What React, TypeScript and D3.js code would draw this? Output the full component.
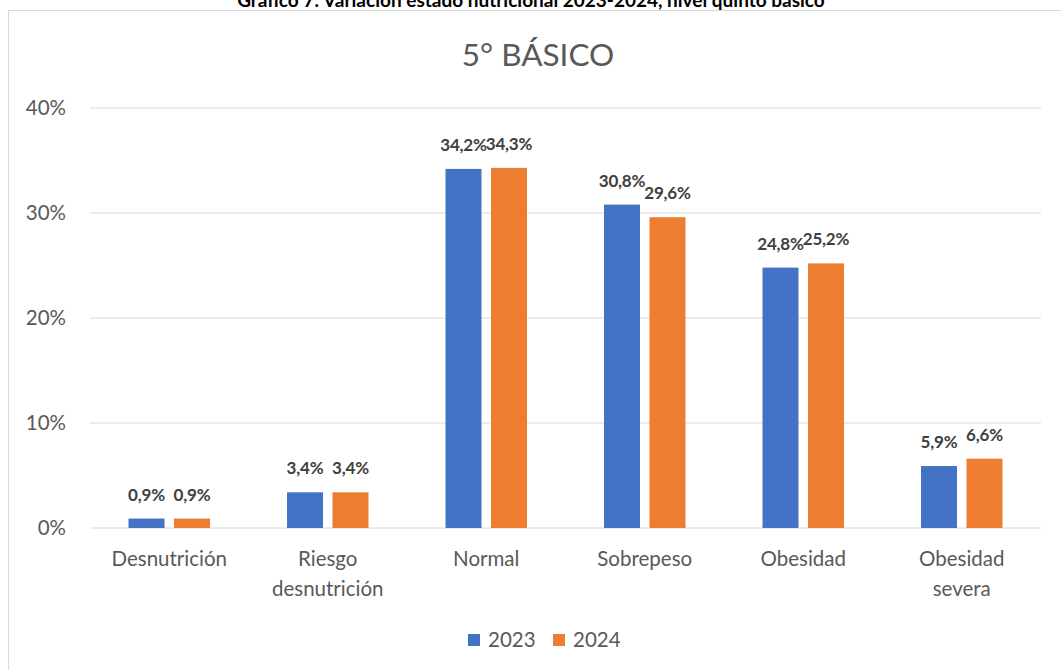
import React from "react";
import * as d3 from "d3";

const categories: string[][] = [
  ["Desnutrición"],
  ["Riesgo", "desnutrición"],
  ["Normal"],
  ["Sobrepeso"],
  ["Obesidad"],
  ["Obesidad", "severa"],
];
const series2023 = [0.9, 3.4, 34.2, 30.8, 24.8, 5.9];
const series2024 = [0.9, 3.4, 34.3, 29.6, 25.2, 6.6];
const seriesNames = ["2023", "2024"];
const colors = ["#4472C4", "#ED7D31"];
const yTicks = [0, 10, 20, 30, 40];

const W = 1061;
const H = 670;
const font = "Lato, 'Open Sans', sans-serif";

export default function App() {
  const left = 90;
  const right = 1041;
  const y0 = 528;
  const y40 = 108;
  const x = d3.scaleBand<number>().domain(d3.range(categories.length)).range([left, right]).paddingInner(0).paddingOuter(0);
  const y = d3.scaleLinear().domain([0, 40]).range([y0, y40]);
  const barW = 36;
  const gap = 9.5;
  const fmt = (v: number) => v.toFixed(1).replace(".", ",") + "%";
  const all = [series2023, series2024];

  return (
    <svg width={W} height={H} style={{ position: "fixed", left: 0, top: 0, background: "#fff" }} fontFamily={font}>
      <rect x={0} y={0} width={W} height={H} fill="#fff" />
      <text x={531} y={7} textAnchor="middle" fontWeight="bold" fontSize={19} fill="#000">
        Gráfico 7: Variación estado nutricional 2023-2024, nivel quinto básico
      </text>
      <rect x={8.5} y={10.5} width={W + 10} height={H} fill="none" stroke="#d9d9d9" strokeWidth={1} />
      <text x={538} y={66} textAnchor="middle" fontSize={31.5} fill="#595959">5° BÁSICO</text>
      {yTicks.map((t) => (
        <g key={t}>
          <line x1={left} x2={right} y1={y(t)} y2={y(t)} stroke="#d9d9d9" strokeWidth={1.2} />
          <text x={66} y={y(t) + 7} textAnchor="end" fontSize={20.5} fill="#595959">{t}%</text>
        </g>
      ))}
      {categories.map((lines, i) => {
        const cx = (x(i) as number) + x.bandwidth() / 2;
        return (
          <g key={i}>
            {all.map((s, j) => {
              const bx = j === 0 ? cx - gap / 2 - barW : cx + gap / 2;
              return (
                <g key={j}>
                  <rect x={bx} y={y(s[i])} width={barW} height={y0 - y(s[i])} fill={colors[j]} />
                  <text x={bx + barW / 2} y={y(s[i]) - 18} textAnchor="middle" fontWeight="bold" fontSize={17} letterSpacing={-0.2} fill="#404040">
                    {fmt(s[i])}
                  </text>
                </g>
              );
            })}
            {lines.map((l, k) => (
              <text key={k} x={cx} y={566 + k * 30} textAnchor="middle" fontSize={20.5} fill="#595959">{l}</text>
            ))}
          </g>
        );
      })}
      {seriesNames.map((n, j) => {
        const lx = j === 0 ? 468 : 553;
        return (
          <g key={n}>
            <rect x={lx} y={634} width={12} height={12} fill={colors[j]} />
            <text x={lx + 20} y={647} fontSize={20.5} fill="#595959">{n}</text>
          </g>
        );
      })}
    </svg>
  );
}
